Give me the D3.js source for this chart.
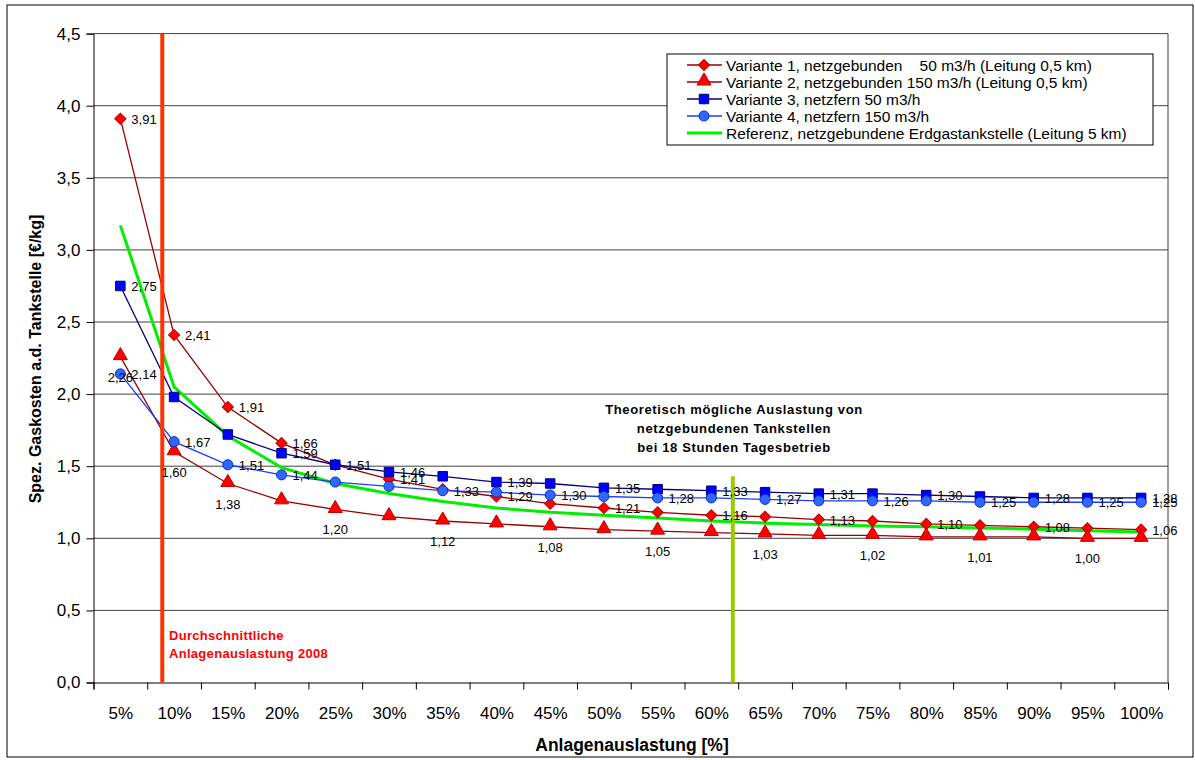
<!DOCTYPE html>
<html><head><meta charset="utf-8">
<script src="https://cdn.jsdelivr.net/npm/d3@7"></script>
<style>
html,body{margin:0;padding:0;background:#fff;}
text{font-family:"Liberation Sans",Arial,sans-serif;}
</style></head>
<body>
<svg id="chart" width="1195" height="760"></svg>
<script>
const categories = ['5%','10%','15%','20%','25%','30%','35%','40%','45%','50%','55%','60%','65%','70%','75%','80%','85%','90%','95%','100%'];
const v1 = [3.91,2.41,1.91,1.66,1.51,1.41,1.34,1.29,1.24,1.21,1.18,1.16,1.15,1.13,1.12,1.10,1.09,1.08,1.07,1.06];
const v2 = [2.26,1.60,1.38,1.26,1.20,1.15,1.12,1.10,1.08,1.06,1.05,1.04,1.03,1.02,1.02,1.01,1.01,1.01,1.00,1.00];
const v3 = [2.75,1.98,1.72,1.59,1.51,1.46,1.43,1.39,1.38,1.35,1.34,1.33,1.32,1.31,1.31,1.30,1.29,1.28,1.28,1.28];
const v4 = [2.14,1.67,1.51,1.44,1.39,1.36,1.33,1.32,1.30,1.29,1.28,1.28,1.27,1.26,1.26,1.26,1.25,1.25,1.25,1.25];
const ref = [3.17,2.05,1.71,1.49,1.38,1.31,1.255,1.21,1.18,1.16,1.14,1.12,1.105,1.095,1.085,1.08,1.072,1.063,1.053,1.043];
const labels1 = [0,1,2,3,5,7,9,11,13,15,17,19];
const labels2 = [0,1,2,4,6,8,10,12,14,16,18];
const labels3 = [0,3,4,5,7,9,11,13,15,17,19];
const labels4 = [0,1,2,3,6,8,10,12,14,16,18,19];
const seriesNames = [
  'Variante 1, netzgebunden\u00a0\u00a0\u00a0 50 m3/h (Leitung 0,5 km)',
  'Variante 2, netzgebunden 150 m3/h (Leitung 0,5 km)',
  'Variante 3, netzfern 50 m3/h',
  'Variante 4, netzfern 150 m3/h',
  'Referenz, netzgebundene Erdgastankstelle (Leitung 5 km)'
];
const yTicks = [0,0.5,1,1.5,2,2.5,3,3.5,4,4.5];
const avgLoad2008 = 8.9;     // % (Durchschnittliche Anlagenauslastung 2008)
const theoLoad = 62;         // % theoretisch mögliche Auslastung
const theoLineTop = 1.43;
const yTitle = 'Spez. Gaskosten a.d. Tankstelle [€/kg]';
const xTitle = 'Anlagenauslastung [%]';
const noteRed = ['Durchschnittliche','Anlagenauslastung 2008'];
const noteGreen = ['Theoretisch mögliche Auslastung von','netzgebundenen Tankstellen','bei 18 Stunden Tagesbetrieb'];

const svg = d3.select('#chart');
const L = 93.5, R = 1168, T = 33.6, B = 682.5;
const xp = d3.scalePoint().domain(categories).range([L, R]).padding(0.5);
const xb = d3.scaleLinear().domain([0, categories.length]).range([L, R]);
const xPct = d3.scaleLinear().domain([5, 100]).range([xp('5%'), xp('100%')]);
const y = d3.scaleLinear().domain([0, 4.5]).range([B, T]);
const fmt = d => d3.format('.2f')(d).replace('.', ',');

// outer border
svg.append('rect').attr('x',7).attr('y',5).attr('width',1186).attr('height',752)
  .attr('fill','none').attr('stroke','#000').attr('stroke-width',1);

// gridlines
svg.append('g').selectAll('line').data(yTicks.filter(d=>d>0)).join('line')
  .attr('x1',L).attr('x2',R).attr('y1',d=>y(d)).attr('y2',d=>y(d))
  .attr('stroke','#404040').attr('stroke-width',1);
svg.append('line').attr('x1',R).attr('x2',R).attr('y1',T).attr('y2',B).attr('stroke','#404040');

// y axis
const ya = svg.append('g').attr('transform',`translate(${L},0)`)
  .call(d3.axisLeft(y).tickValues(yTicks).tickSize(7).tickPadding(6)
    .tickFormat(d => d3.format('.1f')(d).replace('.', ',')));
ya.selectAll('text').attr('font-size',17).attr('fill','#000').attr('font-family','Liberation Sans, Arial');
ya.selectAll('line,path').attr('stroke','#000');

// x axis: boundary ticks
const xa = svg.append('g').attr('transform',`translate(0,${B})`)
  .call(d3.axisBottom(xb).tickValues(d3.range(0, categories.length+1)).tickSize(7).tickFormat(''));
xa.selectAll('line,path').attr('stroke','#000');
const xl = svg.append('g').attr('transform',`translate(0,${B})`)
  .call(d3.axisBottom(xp).tickSize(0).tickPadding(24));
xl.select('path').remove();
xl.selectAll('text').attr('font-size',17).attr('fill','#000').attr('font-family','Liberation Sans, Arial');

// axis titles
svg.append('text').attr('transform',`translate(41,359) rotate(-90)`)
  .attr('text-anchor','middle').attr('font-size',16).attr('font-weight','bold').text(yTitle);
svg.append('text').attr('x',632).attr('y',751).attr('text-anchor','middle')
  .attr('font-size',17.5).attr('font-weight','bold').text(xTitle);

// series
const series = [
  {vals:v1, line:'#990000', lw:1.3, sym:'diamond', fill:'#ff0000', stroke:'#c00000', labels:labels1, below:false},
  {vals:v2, line:'#990000', lw:1.3, sym:'triangle', fill:'#ff0000', stroke:'#c00000', labels:labels2, below:true},
  {vals:v3, line:'#000080', lw:1.3, sym:'square', fill:'#0000ff', stroke:'#000080', labels:labels3, below:false},
  {vals:v4, line:'#1a3cff', lw:1.3, sym:'circle', fill:'#3366ff', stroke:'#0033cc', labels:labels4, below:false}
];
const symPath = s => {
  if (s === 'diamond') return d3.symbol(d3.symbolSquare, 62)();
  if (s === 'triangle') return d3.symbol(d3.symbolTriangle, 85)();
  if (s === 'square') return d3.symbol(d3.symbolSquare, 90)();
  return d3.symbol(d3.symbolCircle, 80)();
};
const symRot = s => s === 'diamond' ? ' rotate(45)' : (s==='triangle' ? ' translate(0,-1)' : '');
const line = d3.line().x((d,i)=>xp(categories[i])).y(d=>y(d));

// reference line
svg.append('path').attr('d', line(ref)).attr('fill','none').attr('stroke','#00ee00').attr('stroke-width',3);

series.forEach(s => {
  svg.append('path').attr('d', line(s.vals)).attr('fill','none').attr('stroke',s.line).attr('stroke-width',s.lw);
});
series.forEach(s => {
  svg.append('g').selectAll('path').data(s.vals).join('path')
    .attr('d', symPath(s.sym))
    .attr('transform',(d,i)=>`translate(${xp(categories[i])},${y(d)})${symRot(s.sym)}`)
    .attr('fill', s.fill).attr('stroke', s.stroke).attr('stroke-width',1);
});
// vertical markers
svg.append('line').attr('x1',xPct(avgLoad2008)).attr('x2',xPct(avgLoad2008)).attr('y1',T).attr('y2',B)
  .attr('stroke','#ff3300').attr('stroke-width',4);
svg.append('line').attr('x1',xPct(theoLoad)).attr('x2',xPct(theoLoad)).attr('y1',y(theoLineTop)).attr('y2',B)
  .attr('stroke','#99cc00').attr('stroke-width',4);

// data labels
series.forEach(s => {
  svg.append('g').selectAll('text').data(s.labels).join('text')
    .attr('x', i => s.below ? xp(categories[i]) : xp(categories[i]) + 11)
    .attr('y', i => s.below ? y(s.vals[i]) + 25 : y(s.vals[i]) + 5)
    .attr('text-anchor', s.below ? 'middle' : 'start')
    .attr('font-size', 13).attr('fill','#000')
    .text(i => fmt(s.vals[i]));
});

// annotations
svg.append('g').selectAll('text').data(noteRed).join('text')
  .attr('x',169).attr('y',(d,i)=>640+i*18).attr('font-size',13).attr('font-weight','bold')
  .attr('fill','#ff0000').attr('letter-spacing',0.3).text(d=>d);
svg.append('g').selectAll('text').data(noteGreen).join('text')
  .attr('x',734).attr('y',(d,i)=>414+i*19).attr('text-anchor','middle').attr('font-size',13).attr('font-weight','bold')
  .attr('fill','#000').attr('letter-spacing',0.65).text(d=>d);

// legend
const lg = svg.append('g');
lg.append('rect').attr('x',667).attr('y',54).attr('width',486).attr('height',91)
  .attr('fill','#fff').attr('stroke','#000').attr('stroke-width',1);
const legendItems = [
  {name:seriesNames[0], s:series[0]},
  {name:seriesNames[1], s:series[1]},
  {name:seriesNames[2], s:series[2]},
  {name:seriesNames[3], s:series[3]},
  {name:seriesNames[4], s:null}
];
legendItems.forEach((it,i) => {
  const cy = 65 + i*17;
  lg.append('line').attr('x1',687).attr('x2',722).attr('y1',cy).attr('y2',cy)
    .attr('stroke', it.s ? it.s.line : '#00ee00').attr('stroke-width', it.s ? 1.3 : 3);
  if (it.s) {
    lg.append('path').attr('d', symPath(it.s.sym))
      .attr('transform',`translate(704,${cy})${symRot(it.s.sym)}`)
      .attr('fill', it.s.fill).attr('stroke', it.s.stroke);
  }
  lg.append('text').attr('x',726).attr('y',cy+5.5).attr('font-size',15.5).attr('fill','#000').text(it.name);
});
</script>
</body></html>
